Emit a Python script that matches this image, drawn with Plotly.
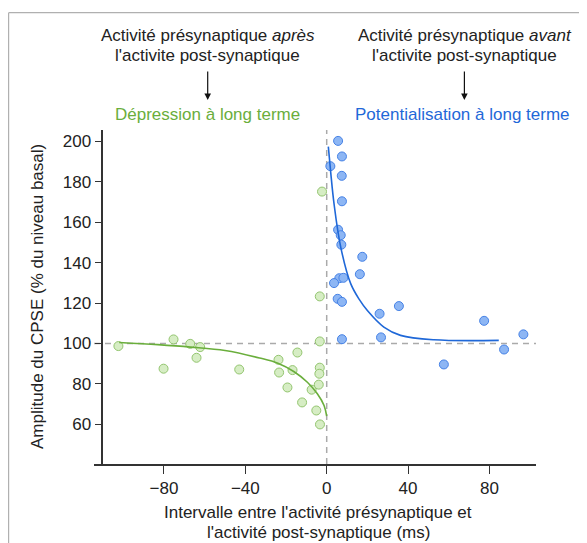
import plotly.graph_objects as go

# ---- data ----
ltd_x = [-102.4, -80.2, -75.3, -67.1, -62.2, -64.0, -43.0, -23.7, -23.4, -16.8, -14.4,
         -19.3, -12.1, -7.4, -5.1, -3.3, -3.9, -3.4, -3.6, -3.4, -3.4, -2.3]
ltd_y = [98.7, 87.5, 102.0, 99.8, 98.2, 92.9, 87.1, 91.9, 85.6, 86.8, 95.5,
         78.2, 70.8, 77.1, 66.8, 59.9, 79.6, 88.0, 85.0, 101.0, 123.3, 175.2]

ltp_x = [5.6, 7.5, 1.8, 7.4, 7.5, 5.6, 6.9, 7.2, 17.5, 16.3, 6.2, 8.2, 3.6, 5.4, 7.5,
         35.5, 26.0, 77.4, 96.7, 7.5, 26.7, 87.2, 57.6]
ltp_y = [200.3, 192.6, 187.8, 183.0, 170.4, 156.3, 153.6, 148.9, 142.9, 134.3, 132.3,
         132.5, 129.9, 122.1, 120.6, 118.5, 114.7, 111.2, 104.5, 102.1, 103.0, 97.0, 89.6]

ltd_fit_x = [-102.0, -83.0, -67.0, -50.0, -33.0, -24.0, -16.0, -9.5, -4.6, -1.3, 0.0]
ltd_fit_y = [100.5, 99.4, 98.2, 96.5, 92.8, 90.2, 86.0, 80.8, 75.1, 69.3, 64.0]

ltp_fit_x = [0.8, 2.0, 3.6, 6.9, 11.8, 16.0, 20.0, 28.1, 36.3, 52.7, 84.6]
ltp_fit_y = [197.5, 184.5, 169.2, 147.7, 129.6, 121.8, 116.3, 108.1, 104.0, 101.8, 101.5]

x_ticks = [-80, -40, 0, 40, 80]
y_ticks = [60, 80, 100, 120, 140, 160, 180, 200]

# ---- layout geometry (page has an 8px body margin at top/left) ----
OFF = 8
W, H = 587 - OFF, 543 - OFF
ML, MR, MT, MB = 86, 51, 122, 79
PW, PH = W - ML - MR, H - MT - MB
FONT = "Liberation Sans, Arial, sans-serif"
FS = 17
TXT = "#222222"
GREEN = "#6aae3c"
BLUE = "#1f68d8"


def px(x):
    # page pixel -> paper fraction
    return (x - OFF - ML) / PW


def py(y):
    return (H - MB - (y - OFF)) / PH


fig = go.Figure()

fig.add_trace(go.Scatter(x=ltd_x, y=ltd_y, mode="markers",
                         marker=dict(size=9, color="#d6edc4",
                                     line=dict(color="#93c56f", width=1)),
                         showlegend=False, hoverinfo="skip"))
fig.add_trace(go.Scatter(x=ltp_x, y=ltp_y, mode="markers",
                         marker=dict(size=9, color="#8db6f4",
                                     line=dict(color="#4682e6", width=1)),
                         showlegend=False, hoverinfo="skip"))
fig.add_trace(go.Scatter(x=ltd_fit_x, y=ltd_fit_y, mode="lines",
                         line=dict(color=GREEN, width=1.6, shape="spline"),
                         showlegend=False, hoverinfo="skip"))
fig.add_trace(go.Scatter(x=ltp_fit_x, y=ltp_fit_y, mode="lines",
                         line=dict(color=BLUE, width=1.6, shape="spline"),
                         showlegend=False, hoverinfo="skip"))

shapes = [
    dict(type="line", xref="x", yref="paper", x0=0, x1=0, y0=0, y1=1,
         line=dict(color="#aaaaaa", width=1.5, dash="6px,5px"), layer="below"),
    dict(type="line", xref="paper", yref="y", x0=0, x1=1, y0=100, y1=100,
         line=dict(color="#aaaaaa", width=1.5, dash="6px,5px"), layer="below"),
    # outer frame (top and left)
    dict(type="line", xref="paper", yref="paper", x0=px(8.6), x1=px(600),
         y0=py(12.7), y1=py(12.7), line=dict(color="#b0b0b0", width=1.2)),
    dict(type="line", xref="paper", yref="paper", x0=px(8.6), x1=px(8.6),
         y0=py(12.7), y1=py(560), line=dict(color="#b0b0b0", width=1.2)),
]

ann = []


def text(x, y, s, color=TXT, size=FS, angle=0):
    ann.append(dict(x=px(x), y=py(y), xref="paper", yref="paper", text=s,
                    showarrow=False, xanchor="center", yanchor="middle",
                    textangle=angle, font=dict(family=FONT, size=size, color=color)))


text(207.7, 35.5, "Activité présynaptique <i>après</i>")
text(207.7, 55.5, "l'activite post-synaptique")
text(207.0, 114.5, "Dépression à long terme", GREEN)
text(464.5, 35.5, "Activité présynaptique <i>avant</i>")
text(464.5, 55.5, "l'activite post-synaptique")
text(462.5, 114.5, "Potentialisation à long terme", BLUE)
text(318.0, 512.5, "Intervalle entre l'activité présynaptique et")
text(318.0, 532.5, "l'activité post-synaptique (ms)")
text(37.0, 297.0, "Amplitude du CPSE (% du niveau basal)", angle=-90)

for ax_x in (207.7, 464.4):
    ann.append(dict(x=px(ax_x), y=py(100), xref="paper", yref="paper", text="",
                    showarrow=True, ax=0, ay=-30, arrowhead=2, arrowsize=1.1,
                    arrowwidth=1.2, arrowcolor="#111111"))

fig.update_layout(
    width=W, height=H,
    margin=dict(l=ML, r=MR, t=MT, b=MB, pad=0),
    paper_bgcolor="white", plot_bgcolor="white",
    font=dict(family=FONT, size=FS, color=TXT),
    shapes=shapes, annotations=ann,
    xaxis=dict(range=[-114.4, 102.9], tickvals=x_ticks, showgrid=False,
               zeroline=False, showline=True, linecolor="#333333", linewidth=1.6,
               ticks="outside", ticklen=8, tickwidth=1.4, tickcolor="#333333",
               tickfont=dict(family=FONT, size=FS, color=TXT), fixedrange=True),
    yaxis=dict(range=[40.3, 205.7], tickvals=y_ticks, showgrid=False,
               zeroline=False, showline=True, linecolor="#333333", linewidth=1.6,
               ticks="outside", ticklen=7, tickwidth=1.4, tickcolor="#333333",
               anchor="free", position=px(102.3),
               tickfont=dict(family=FONT, size=FS, color=TXT), fixedrange=True),
)

fig.write_html("out.html")
